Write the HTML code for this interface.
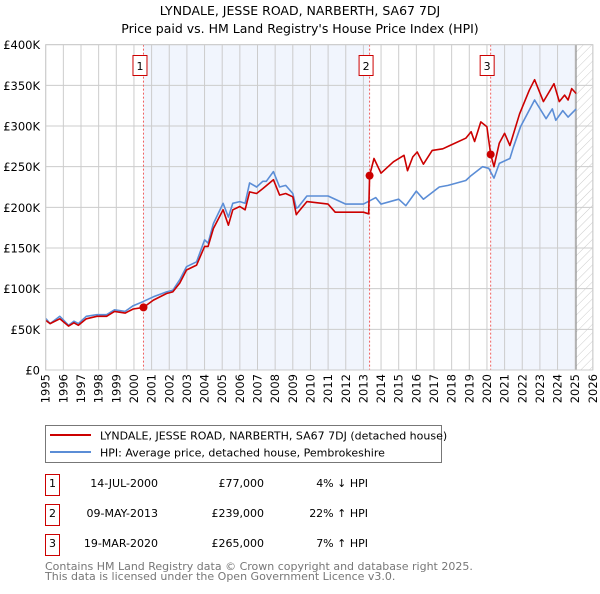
<!DOCTYPE html>
<html><head><meta charset="utf-8"><style>
body{margin:0;background:#fff;font-family:"DejaVu Sans","Liberation Sans",sans-serif;}
svg text{font-family:"DejaVu Sans","Liberation Sans",sans-serif;}
</style></head><body>
<svg id="c" width="600" height="590" xmlns="http://www.w3.org/2000/svg">
<defs><pattern id="hatch" width="6" height="6" patternUnits="userSpaceOnUse" patternTransform="rotate(45)"><line x1="0" y1="0" x2="0" y2="6" stroke="#ccc" stroke-width="1"/></pattern></defs>
<text x="300" y="15" text-anchor="middle" font-size="12.5">LYNDALE, JESSE ROAD, NARBERTH, SA67 7DJ</text>
<text x="300" y="33" text-anchor="middle" font-size="12.5">Price paid vs. HM Land Registry's House Price Index (HPI)</text>
<g id="plot"></g>
<rect x="45.5" y="425.5" width="396" height="37" fill="#fff" stroke="#777"/>
<line x1="50" y1="435" x2="91" y2="435" stroke="#cc0000" stroke-width="2"/>
<text x="100" y="439.5" font-size="11">LYNDALE, JESSE ROAD, NARBERTH, SA67 7DJ (detached house)</text>
<line x1="50" y1="452" x2="91" y2="452" stroke="#5b8dd6" stroke-width="2"/>
<text x="100" y="456.5" font-size="11">HPI: Average price, detached house, Pembrokeshire</text>
<g id="tbl" font-size="11"></g>
<text x="45" y="570" font-size="11" fill="#777">Contains HM Land Registry data © Crown copyright and database right 2025.</text>
<text x="45" y="580" font-size="11" fill="#777">This data is licensed under the Open Government Licence v3.0.</text>
</svg>
<script>
const yTicks=[0,50,100,150,200,250,300,350,400];
const yTickLabels=["£0","£50K","£100K","£150K","£200K","£250K","£300K","£350K","£400K"];
const years=[1995,1996,1997,1998,1999,2000,2001,2002,2003,2004,2005,2006,2007,2008,2009,2010,2011,2012,2013,2014,2015,2016,2017,2018,2019,2020,2021,2022,2023,2024,2025,2026];
const hpiT=[1995,1995.25,1995.8,1996.3,1996.6,1996.85,1997.3,1997.9,1998.45,1998.9,1999.5,1999.96,2000.5,2001.1,2001.85,2002.2,2002.6,2002.98,2003.55,2004.0,2004.2,2004.5,2005.05,2005.35,2005.6,2006.0,2006.3,2006.55,2006.95,2007.3,2007.5,2007.9,2008.25,2008.6,2009.0,2009.2,2009.3,2009.8,2011.0,2012.0,2013.0,2013.7,2014.0,2015.0,2015.4,2016.0,2016.4,2017.3,2017.8,2018.8,2019.1,2019.75,2020.1,2020.4,2020.7,2021.3,2021.5,2021.9,2022.7,2023.35,2023.7,2023.9,2024.3,2024.6,2025.05];
const hpiV=[63.5,57,66,55,60,57,66,68,68,74,72,79,84,90,96,98,111,127,133,160,156,180,205,188,205,207,205,230,225,232,232,244,225,227,217,199,200,214,214,204,204,212,204,210,202,220,210,225,227,233,239,250,248,236,254,260,274,299,332,309,321,307,319,311,321];
const redT=[1995,1995.25,1995.8,1996.3,1996.6,1996.85,1997.3,1997.9,1998.45,1998.9,1999.5,1999.96,2000.54,2001.1,2001.85,2002.2,2002.6,2002.98,2003.55,2004.0,2004.2,2004.5,2005.05,2005.35,2005.6,2006.0,2006.3,2006.55,2006.95,2007.3,2007.9,2008.25,2008.6,2009.0,2009.2,2009.3,2009.8,2011.0,2011.4,2013.0,2013.3,2013.35,2013.6,2014.0,2014.7,2015.3,2015.5,2015.8,2016.05,2016.4,2016.9,2017.5,2017.9,2018.8,2019.1,2019.3,2019.65,2020.0,2020.21,2020.4,2020.7,2021.0,2021.3,2021.85,2022.4,2022.7,2023.2,2023.8,2024.1,2024.4,2024.6,2024.8,2025.05];
const redV=[61,57,63,54,58,55,63,66,66,72,70,75,77,86,94,96,107,123,129,152,152,174,197,178,197,201,197,219,217,223,234,215,217,213,191,194,207,204,194,194,192,239,260,242,256,264,245,262,268,253,270,272,276,285,293,281,305,299,265,250,279,291,276,315,344,357,330,352,330,338,332,346,340];
const saleT=[2000.54,2013.35,2020.21];
const saleV=[77,239,265];
const saleLabels=["1","2","3"];
const saleDates=["14-JUL-2000","09-MAY-2013","19-MAR-2020"];
const salePrices=["£77,000","£239,000","£265,000"];
const saleHpi=["4% ↓ HPI","22% ↑ HPI","7% ↑ HPI"];

const NS="http://www.w3.org/2000/svg";
const X0=45.7,PX=17.65,Y0=370,PY=0.8133;
const xs=t=>X0+(t-1995)*PX, ys=v=>Y0-v*PY;
const g=document.getElementById('plot');
function mk(tag,attrs,parent){const e=document.createElementNS(NS,tag);for(const k in attrs)e.setAttribute(k,attrs[k]);(parent||g).appendChild(e);return e;}
const L=xs(1995),R=xs(2026),T=ys(400),B=ys(0);
let e;
e=mk('rect',{x:xs(saleT[0]),y:T,width:xs(saleT[1])-xs(saleT[0]),height:B-T,fill:'#eef3fc',opacity:0.8});


e=mk('rect',{x:xs(saleT[2]),y:T,width:xs(2025.0)-xs(saleT[2]),height:B-T,fill:'#eef3fc',opacity:0.8});


e=mk('rect',{x:xs(2025.05),y:T,width:R-xs(2025.05),height:B-T,fill:'url(#hatch)'});


years.forEach(y=>{
 e=mk('line',{x1:xs(y),x2:xs(y),y1:T,y2:B,stroke:'#ccc','stroke-width':1});
 
 
 e=mk('text',{x:0,y:0,'font-size':11.5,'text-anchor':'end',transform:`translate(${xs(y)+4},${B+4}) rotate(-90)`});
 e.textContent=y;
 
 
});
yTicks.forEach((v,i)=>{
 e=mk('line',{x1:L,x2:R,y1:ys(v),y2:ys(v),stroke:'#ccc','stroke-width':1});
 
 
 e=mk('text',{x:40,y:ys(v)+4.5,'font-size':11.5,'text-anchor':'end'});
 e.textContent=yTickLabels[i];
 
 
});
e=mk('line',{x1:xs(2025.05),x2:xs(2025.05),y1:T,y2:B,stroke:'#888','stroke-width':1});


saleT.forEach((t,i)=>{
 e=mk('line',{x1:xs(t),x2:xs(t),y1:T,y2:B,stroke:'#f06060','stroke-width':1,'stroke-dasharray':'2,2'});
 
 
});
const pts=(ts,vs)=>ts.map((t,i)=>xs(t).toFixed(1)+','+ys(vs[i]).toFixed(1)).join(' ');
e=mk('polyline',{points:pts(hpiT,hpiV),fill:'none',stroke:'#5b8dd6','stroke-width':1.6,'stroke-linejoin':'round'});


e=mk('polyline',{points:pts(redT,redV),fill:'none',stroke:'#cc0000','stroke-width':1.6,'stroke-linejoin':'round'});


saleT.forEach((t,i)=>{
 e=mk('circle',{cx:xs(t),cy:ys(saleV[i]),r:4,fill:'#cc0000'});
 
 
 e=mk('rect',{x:xs(t)-10.5,y:55.5,width:14,height:20,fill:'#fff',stroke:'#cc0000'});
 
 
 e=mk('text',{x:xs(t)-3.5,y:70,'font-size':11,'text-anchor':'middle'});
 e.textContent=saleLabels[i];
 
 
});
e=mk('rect',{x:L,y:T,width:R-L,height:B-T,fill:'none',stroke:'#ccc'});


const tb=document.getElementById('tbl');
saleLabels.forEach((s,i)=>{
 const y=486+i*30;
 e=mk('rect',{x:45.5,y:y-11.5,width:14,height:21,fill:'#fff',stroke:'#cc0000'},tb);
 
 
 e=mk('text',{x:52.5,y:y+1,'text-anchor':'middle'},tb);e.textContent=s;
 
 
 e=mk('text',{x:158,y:y+1,'text-anchor':'end'},tb);e.textContent=saleDates[i];
 
 
 e=mk('text',{x:264,y:y+1,'text-anchor':'end'},tb);e.textContent=salePrices[i];
 
 
 e=mk('text',{x:368,y:y+1,'text-anchor':'end'},tb);e.textContent=saleHpi[i];
 
 
});
</script>
</body></html>
